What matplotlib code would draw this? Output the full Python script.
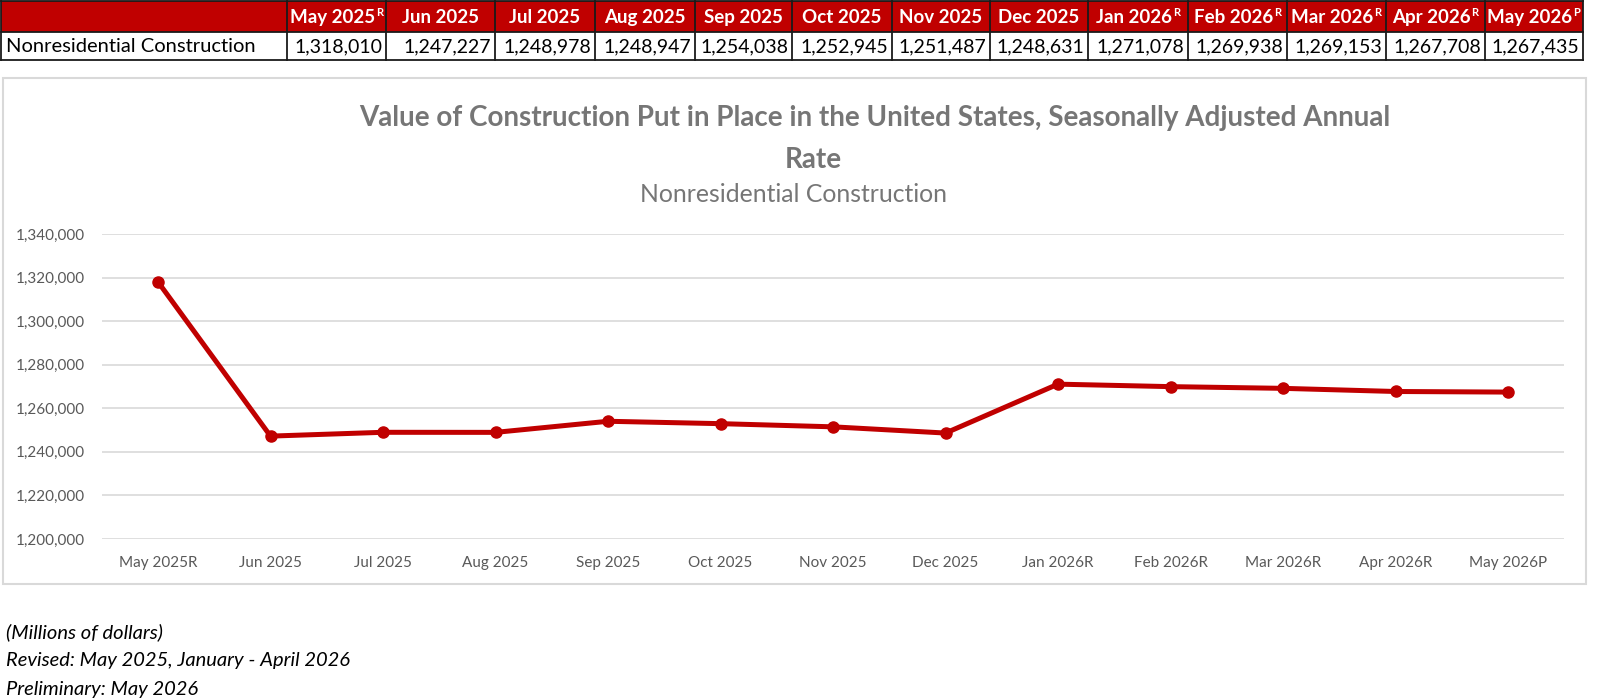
import matplotlib.pyplot as plt
from matplotlib.patches import Rectangle
from matplotlib.ticker import FuncFormatter

# Données (millions de dollars)
months = ['May 2025', 'Jun 2025', 'Jul 2025', 'Aug 2025', 'Sep 2025', 'Oct 2025', 'Nov 2025',
          'Dec 2025', 'Jan 2026', 'Feb 2026', 'Mar 2026', 'Apr 2026', 'May 2026']
flags = ['R', '', '', '', '', '', '', '', 'R', 'R', 'R', 'R', 'P']
values = [1318010, 1247227, 1248978, 1248947, 1254038, 1252945, 1251487,
          1248631, 1271078, 1269938, 1269153, 1267708, 1267435]
series_name = 'Nonresidential Construction'
y_ticks = [1200000, 1220000, 1240000, 1260000, 1280000, 1300000, 1320000, 1340000]
notes = ['(Millions of dollars)', 'Revised: May 2025, January - April 2026', 'Preliminary: May 2026']

W, H = 1600, 698
RED = '#C00000'
GRAY = '#595959'
FONT = 'Lato'

fig = plt.figure(figsize=(W / 100, H / 100), dpi=100)

# calque en pixels pour le tableau, le cadre et les textes
over = fig.add_axes([0, 0, 1, 1])
over.set_xlim(0, W)
over.set_ylim(H, 0)
over.axis('off')

# tableau en haut
col_edges = [1, 287, 386, 495, 595, 695, 792, 892, 990, 1088, 1188, 1287, 1386, 1485, 1583]
row_top, row_mid, row_bot = 1, 32, 60
over.add_patch(Rectangle((col_edges[0], row_top), col_edges[-1] - col_edges[0], row_mid - row_top,
                         facecolor=RED, edgecolor='none', zorder=1))
for x in col_edges:
    over.plot([x, x], [row_top, row_bot], color='#1a1a1a', lw=1.3, zorder=2)
for y in (row_top, row_mid, row_bot):
    over.plot([col_edges[0], col_edges[-1]], [y, y], color='#1a1a1a', lw=1.3, zorder=2)

over.text(col_edges[0] + 5, (row_mid + row_bot) / 2 + 1, series_name, ha='left', va='center',
          fontsize=14.5, family=FONT, color='black', zorder=3)
for i, (m, f, v) in enumerate(zip(months, flags, values)):
    x0, x1 = col_edges[i + 1], col_edges[i + 2]
    shift = -4 if f else 0
    t = over.text((x0 + x1) / 2 + shift, (row_top + row_mid) / 2 + 1, m, ha='center', va='center',
                  fontsize=13.5, family=FONT, weight='bold', color='white', zorder=3)
    if f:
        over.annotate(f, xy=(1, 1), xycoords=t, xytext=(0.5, 1.5), textcoords='offset points',
                      ha='left', va='top', fontsize=8, family=FONT, weight='bold', color='white', zorder=3)
    over.text(x1 - 4, (row_mid + row_bot) / 2 + 1, f'{v:,}', ha='right', va='center',
              fontsize=14, family=FONT, color='black', zorder=3)

# cadre du graphique
over.add_patch(Rectangle((3, 78), 1583, 506, facecolor='none', edgecolor='#d9d9d9', lw=1.5, zorder=1))

# titres
over.text(875, 118, 'Value of Construction Put in Place in the United States, Seasonally Adjusted Annual',
          ha='center', va='center', fontsize=20, family=FONT, weight='bold', color='#767676')
over.text(813, 160, 'Rate', ha='center', va='center', fontsize=20, family=FONT, weight='bold', color='#767676')
over.text(794, 195, series_name, ha='center', va='center', fontsize=17.8, family=FONT, color='#767676')

# notes
for k, n in enumerate(notes):
    over.text(6, 632 + 28.5 * k, n, ha='left', va='center', fontsize=14.5, family=FONT,
              style='italic', color='black')

# graphique
left, right, top, bottom = 101.75, 1564.25, 234, 539
ax = fig.add_axes([left / W, 1 - bottom / H, (right - left) / W, (bottom - top) / H])
ax.set_facecolor('none')
x = list(range(len(months)))
ax.plot(x, values, color=RED, lw=3.6, marker='o', markersize=8, zorder=3)
ax.set_xlim(-0.5, len(months) - 0.5)
ax.set_ylim(y_ticks[0], y_ticks[-1])
ax.set_yticks(y_ticks)
ax.yaxis.set_major_formatter(FuncFormatter(lambda v, p: f'{int(v):,}'))
ax.set_xticks(x)
ax.set_xticklabels([m + f for m, f in zip(months, flags)])
ax.grid(axis='y', color='#d9d9d9', lw=1.2)
ax.set_axisbelow(True)
for s in ax.spines.values():
    s.set_visible(False)
ax.tick_params(length=0, labelsize=11, labelcolor=GRAY)
ax.tick_params(axis='x', pad=12)
ax.tick_params(axis='y', pad=12)
for lab in ax.get_xticklabels() + ax.get_yticklabels():
    lab.set_family(FONT)

fig.savefig('out.png', dpi=100)
